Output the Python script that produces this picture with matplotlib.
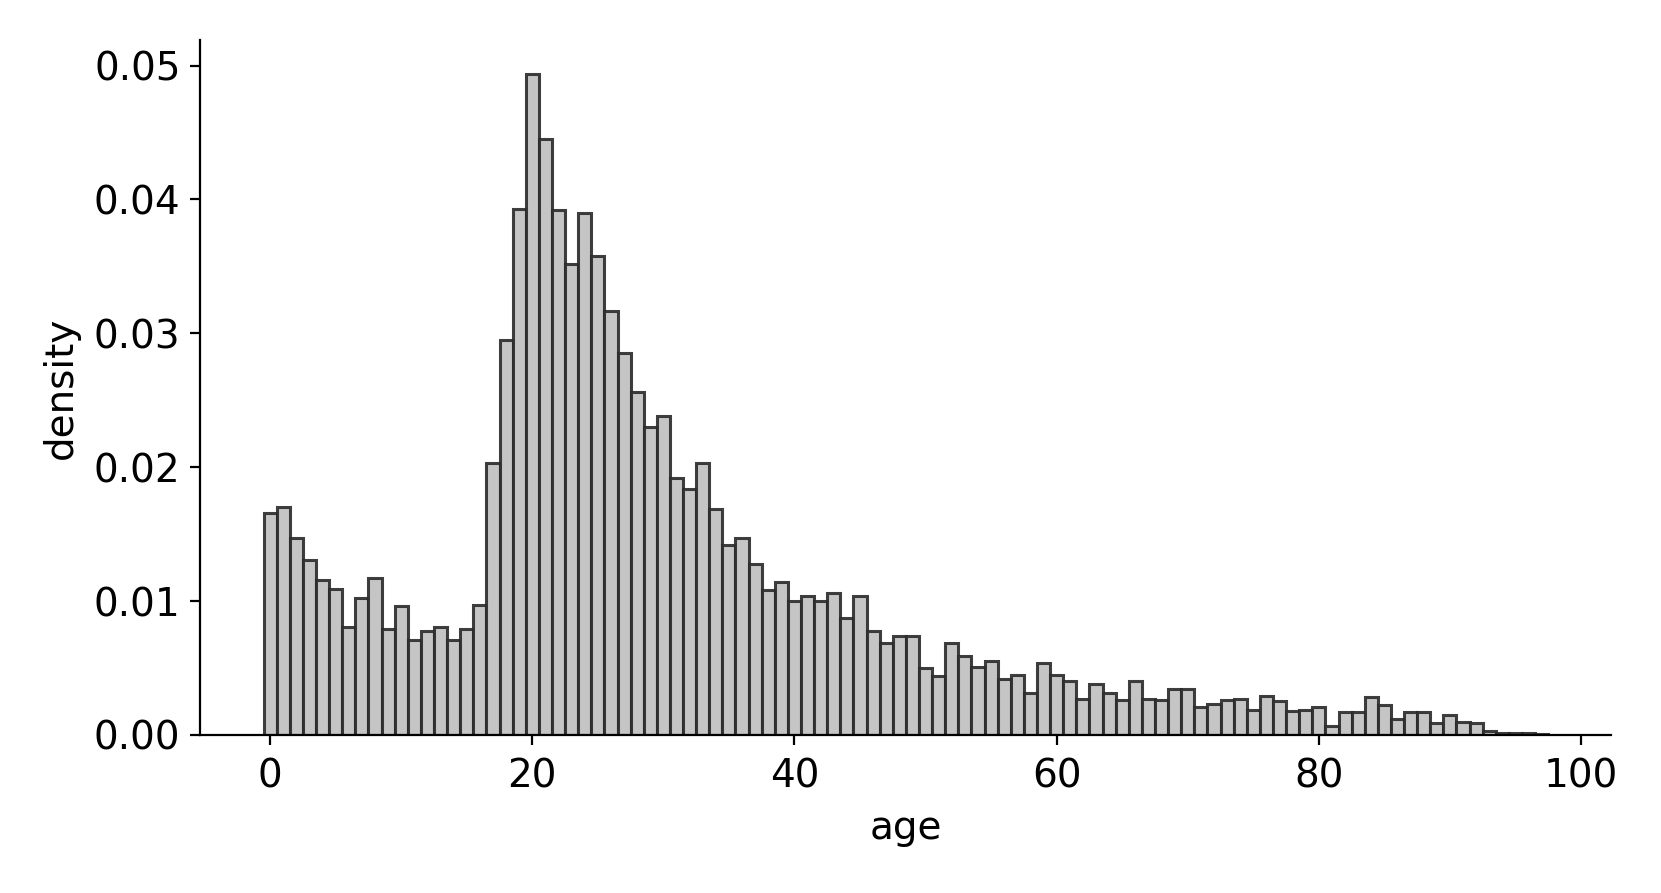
import matplotlib
matplotlib.use("Agg")
import matplotlib.pyplot as plt
import numpy as np

ages = list(range(0, 98))
density = [
    0.0166, 0.0170, 0.0147, 0.0131, 0.0116, 0.0109, 0.0081, 0.0102, 0.0117, 0.0079,
    0.0096, 0.0071, 0.0078, 0.0081, 0.0071, 0.0079, 0.0097, 0.0203, 0.0295, 0.0393,
    0.0494, 0.0445, 0.0392, 0.0352, 0.0390, 0.0358, 0.0317, 0.0285, 0.0256, 0.0230,
    0.0238, 0.0192, 0.0184, 0.0203, 0.0169, 0.0142, 0.0147, 0.0128, 0.0108, 0.0114,
    0.0100, 0.0104, 0.0100, 0.0106, 0.0087, 0.0104, 0.0078, 0.0069, 0.0074, 0.0074,
    0.0050, 0.0044, 0.0069, 0.0059, 0.0051, 0.0055, 0.0042, 0.0045, 0.0031, 0.0054,
    0.0045, 0.0040, 0.0027, 0.0038, 0.0031, 0.0026, 0.0040, 0.0027, 0.0026, 0.0034,
    0.0034, 0.0021, 0.0023, 0.0026, 0.0027, 0.0019, 0.0029, 0.0025, 0.0018, 0.0019,
    0.0021, 0.0007, 0.0017, 0.0017, 0.0028, 0.0022, 0.0012, 0.0017, 0.0017, 0.0009,
    0.0015, 0.0010, 0.0009, 0.0003, 0.00012, 0.00012, 0.00012, 0.00005,
]
xticks = [0, 20, 40, 60, 80, 100]
yticks = [0.00, 0.01, 0.02, 0.03, 0.04, 0.05]

fig = plt.figure(figsize=(1661/200, 893/200), dpi=200)
ax = fig.add_axes([0.1204, 0.177, 0.970-0.1204, 0.955-0.177])
ax.bar(ages, density, width=1.0, align='center', facecolor='#bfbfbf',
       edgecolor='#2a2a2a', linewidth=1.1, alpha=0.9)
ax.set_xlim(-5.35, 102.3)
ax.set_ylim(0, 0.0519)
ax.set_xticks(xticks)
ax.set_yticks(yticks)
ax.set_yticklabels([f"{v:.2f}" for v in yticks])
ax.tick_params(labelsize=14)
ax.tick_params(axis='x', pad=4.5)
ax.set_xlabel("age", fontsize=14, labelpad=5)
ax.set_ylabel("density", fontsize=14, labelpad=5)
ax.spines['top'].set_visible(False)
ax.spines['right'].set_visible(False)
fig.savefig("out.png", dpi=200)
